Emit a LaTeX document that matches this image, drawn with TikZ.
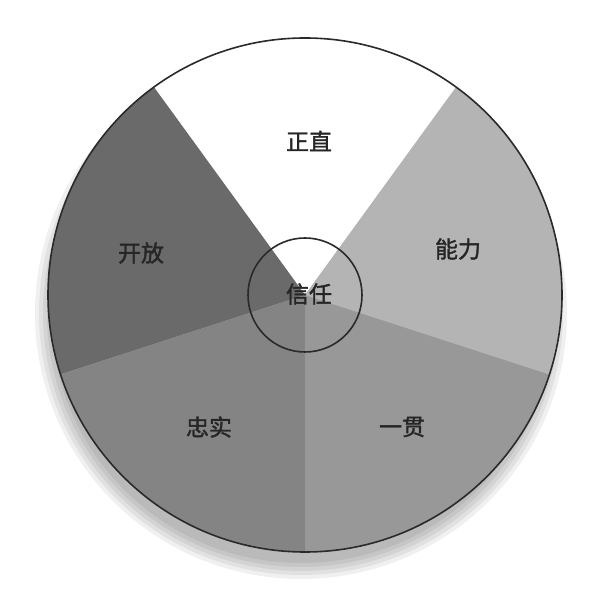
\documentclass[tikz,border=0pt]{standalone}
\usepackage{fontspec}
\newfontfamily\cjk[AutoFakeBold=1.5]{Noto Sans CJK SC}
\definecolor{cOpen}{HTML}{6A6A6A}
\definecolor{cLoyal}{HTML}{848484}
\definecolor{cConsist}{HTML}{989898}
\definecolor{cAbility}{HTML}{B4B4B4}
\definecolor{cLine}{HTML}{2A2A2A}
\tikzset{
  lbl/.style={font=\cjk\bfseries\fontsize{23}{23}\selectfont, text=black!85, inner sep=0pt},
  sector/.style={draw=none},
  ring/.style={draw=cLine, line width=1.6pt}
}
\begin{document}
\begin{tikzpicture}[x=1pt,y=1pt]
\useasboundingbox (0,0) rectangle (606,609);
\fill[white] (0,0) rectangle (606,609);
\coordinate (c) at (305,314);
\coordinate (sh) at (301,296);
% soft shadow
\foreach \rr in {266,262,258,254,250}{
  \fill[black, opacity=0.06] (sh) circle[radius=\rr];
}
% sectors
\fill[sector, white] (c) -- ++(54:257) arc[start angle=54, end angle=126, radius=257] -- cycle;
\fill[sector, cOpen] (c) -- ++(126:257) arc[start angle=126, end angle=198, radius=257] -- cycle;
\fill[sector, cLoyal] (c) -- ++(198:257) arc[start angle=198, end angle=270, radius=257] -- cycle;
\fill[sector, cConsist] (c) -- ++(270:257) arc[start angle=270, end angle=342, radius=257] -- cycle;
\fill[sector, cAbility] (c) -- ++(-18:257) arc[start angle=-18, end angle=54, radius=257] -- cycle;
% rings
\node[ring, circle, minimum size=514pt, inner sep=0pt] (outer) at (c) {};
\node[ring, circle, minimum size=114pt, inner sep=0pt] (inner) at (c) {};
% labels
\node[lbl] (trust) at (309,315) {信任};
\node[lbl] (upright) at (309,468) {正直};
\node[lbl] (open) at (141,356) {开放};
\node[lbl] (ability) at (458,360) {能力};
\node[lbl] (loyal) at (209,182) {忠实};
\node[lbl] (consist) at (402,182) {一贯};
\end{tikzpicture}
\end{document}
